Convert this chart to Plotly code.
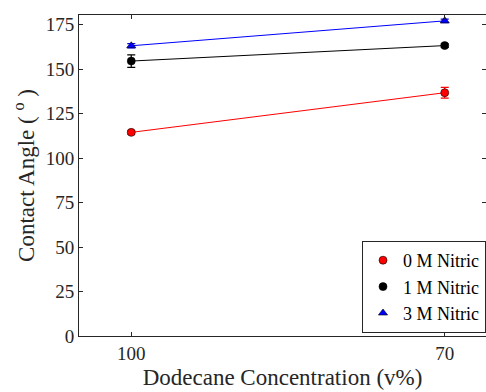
import plotly.graph_objects as go

conc = [100, 70]
series_names = ["0 M Nitric", "1 M Nitric", "3 M Nitric"]
angle_0M = [114.5, 136.8]
err_0M = [1.0, 3.0]
angle_1M = [154.6, 163.3]
err_1M = [3.5, 1.0]
angle_3M = [163.2, 177.2]
err_3M = [1.2, 1.0]
y_ticks = [0, 25, 50, 75, 100, 125, 150, 175]

colors = ["#ff0000", "#000000", "#0000ff"]
symbols = ["circle", "circle", "triangle-up"]

fig = go.Figure()
for name, ys, es, c, s in zip(series_names, [angle_0M, angle_1M, angle_3M],
                              [err_0M, err_1M, err_3M], colors, symbols):
    fig.add_trace(go.Scatter(
        x=conc, y=ys, name=name, mode="lines+markers", showlegend=False,
        line=dict(color=c, width=1),
        marker=dict(color=c, symbol=s, size=8, line=dict(color="#000000", width=0.6)),
        error_y=dict(type="data", array=es, color=c, thickness=1.2, width=4),
    ))
    # legend entry: marker only
    fig.add_trace(go.Scatter(
        x=[None], y=[None], name=name, mode="markers", showlegend=True,
        marker=dict(color=c, symbol=s, size=8, line=dict(color="#000000", width=0.6)),
    ))

font = "Liberation Serif"
fig.update_layout(
    width=486, height=392,
    margin=dict(l=79, r=0, t=15, b=56),
    paper_bgcolor="white", plot_bgcolor="white",
    font=dict(family=font, size=19, color="#262626"),
    showlegend=True,
    legend=dict(x=1.0, y=0.1526, xanchor="right", yanchor="middle",
                bgcolor="white", bordercolor="#262626", borderwidth=1,
                font=dict(family=font, size=18, color="#000000"),
                tracegroupgap=0, itemwidth=30),
    xaxis=dict(range=[105, 66.05], tickvals=conc, ticktext=[str(v) for v in conc],
               showgrid=False, zeroline=False, showline=True, linecolor="#262626",
               linewidth=1, mirror="ticks", ticks="inside", ticklen=4, tickcolor="#262626",
               title=dict(text="Dodecane Concentration (v%)", font=dict(size=23), standoff=6)),
    yaxis=dict(range=[0, 180.5], tickvals=y_ticks,
               showgrid=False, zeroline=False, showline=True, linecolor="#262626",
               linewidth=1, mirror="ticks", ticks="inside", ticklen=4, tickcolor="#262626",
               title=dict(text="Contact Angle ( <sup>o</sup> )", font=dict(size=23), standoff=4)),
)
fig.write_html("out.html")
